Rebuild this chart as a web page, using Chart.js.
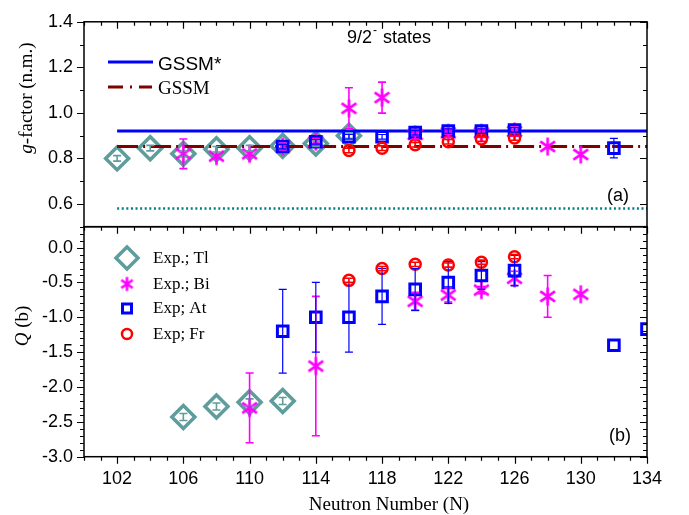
<!DOCTYPE html>
<html><head><meta charset="utf-8">
<script src="https://cdn.jsdelivr.net/npm/chart.js@4.4.1/dist/chart.umd.min.js"></script>
<style>
html,body{margin:0;padding:0;background:#fff;}
#wrap{position:relative;width:689px;height:515px;}
canvas{position:absolute;left:0;top:0;}
</style>
</head><body>
<div id="wrap"><canvas id="cg" width="689" height="515"></canvas><canvas id="cq" width="689" height="515"></canvas></div>
<script>
// ---------- data ----------
const xMin = 100, xMax = 134;
const xTicks = [102, 106, 110, 114, 118, 122, 126, 130, 134];
const gTicks = [0.6, 0.8, 1.0, 1.2, 1.4];
const qTicks = [0.0, -0.5, -1.0, -1.5, -2.0, -2.5, -3.0];
const gMin = 0.5, gMax = 1.4, qMin = -3.0, qMax = 0.3;

// theory lines (panel a)
const lineN = [102, 134];
const gssmStar = 0.92;
const gssm = 0.852;
const gDotted = 0.58;

// g-factors (panel a)
const tlNg = [102, 104, 106, 108, 110, 112, 114, 116];
const tlG = [0.80, 0.845, 0.82, 0.84, 0.845, 0.855, 0.865, 0.90];
const tlGerr = [0.012, 0.012, 0.012, 0.012, 0.012, 0.012, 0.012, 0.012];

const biNg = [106, 108, 110, 112, 114, 116, 118, 120, 122, 124, 126, 128, 130];
const biG = [0.82, 0.81, 0.82, 0.852, 0.873, 1.02, 1.067, 0.905, 0.912, 0.912, 0.918, 0.852, 0.817];
const biGerr = [0.065, 0, 0, 0.015, 0.015, 0.09, 0.068, 0.02, 0.02, 0.02, 0.02, 0, 0];

const atNg = [112, 114, 116, 118, 120, 122, 124, 126, 132];
const atG = [0.852, 0.873, 0.895, 0.895, 0.913, 0.92, 0.92, 0.925, 0.845];
const atGerr = [0.01, 0.01, 0.01, 0.01, 0.01, 0.01, 0.01, 0.01, 0.043];

const frNg = [116, 118, 120, 122, 124, 126];
const frG = [0.835, 0.845, 0.86, 0.873, 0.885, 0.89];
const frGerr = [0.01, 0.01, 0.01, 0.01, 0.01, 0.01];

// quadrupole moments (panel b)
const tlNq = [106, 108, 110, 112];
const tlQ = [-2.43, -2.28, -2.22, -2.20];
const tlQerr = [0.05, 0.05, 0.05, 0.05];

const biNq = [110, 114, 120, 122, 124, 126, 128, 130];
const biQ = [-2.30, -1.70, -0.77, -0.68, -0.61, -0.44, -0.70, -0.67];
const biQerr = [0.5, 1.0, 0.13, 0.1, 0.05, 0.1, 0.3, 0];

const atNq = [112, 114, 116, 118, 120, 122, 124, 126, 132, 134];
const atQ = [-1.20, -1.00, -1.00, -0.70, -0.60, -0.50, -0.40, -0.33, -1.40, -1.17];
const atQerr = [0.6, 0.5, 0.5, 0.4, 0.3, 0.3, 0.2, 0.22, 0, 0];

const frNq = [116, 118, 120, 122, 124, 126];
const frQ = [-0.47, -0.30, -0.24, -0.25, -0.21, -0.13];
const frQerr = [0.03, 0.03, 0.03, 0.03, 0.03, 0.03];

// ---------- styles ----------
const C_TL = '#5f9c9c', C_BI = '#ff00ff', C_AT = '#0000ff', C_FR = '#ff0000';
const C_GS = '#0000ff', C_G = '#800000', C_DOT = '#008080';
const SANS = "'Liberation Sans', Arial, sans-serif";
const SERIF = "'Liberation Serif', 'Times New Roman', serif";

function makeStar(r, color, lw) {
  const s = Math.ceil(2 * r + lw + 2);
  const c = document.createElement('canvas');
  c.width = s; c.height = s;
  const g = c.getContext('2d');
  g.strokeStyle = color; g.lineWidth = lw; g.lineCap = 'butt';
  const cx = s / 2, cy = s / 2;
  g.beginPath();
  [90, 35, -35].forEach(a => {
    const t = a * Math.PI / 180;
    const dx = Math.cos(t) * r, dy = Math.sin(t) * r;
    g.moveTo(cx - dx, cy - dy); g.lineTo(cx + dx, cy + dy);
  });
  g.stroke();
  return c;
}
const starPlot = makeStar(9, C_BI, 2.6);
const starLegend = makeStar(7, C_BI, 2.6);

const pts = (xs, ys) => xs.map((x, i) => ({x: x, y: ys[i]}));

function markerDs(label, xs, ys, errs, style, color, order, radius, bw) {
  return {
    label, data: pts(xs, ys), errs, errColor: color,
    pointStyle: style, pointRadius: radius, pointHoverRadius: radius,
    pointBorderColor: color, pointBackgroundColor: 'rgba(0,0,0,0)',
    pointBorderWidth: bw, showLine: false, order, clip: 0
  };
}
function lineDs(label, val, color, width, dash, order) {
  return {
    label, data: pts(lineN, lineN.map(() => val)), showLine: true,
    borderColor: color, borderWidth: width, borderDash: dash,
    pointRadius: 0, order, clip: 0
  };
}

// ---------- plugins ----------
const errPlugin = {
  id: 'errbars',
  afterDatasetsDraw(chart) {
    const {ctx, chartArea: a, scales: {x, y}} = chart;
    ctx.save();
    ctx.beginPath(); ctx.rect(a.left, a.top, a.right - a.left, a.bottom - a.top); ctx.clip();
    chart.data.datasets.forEach(ds => {
      if (!ds.errs) return;
      ctx.strokeStyle = ds.errColor;
      ctx.lineWidth = ds.errColor === C_AT ? 1.2 : 1.6;
      ds.data.forEach((p, j) => {
        const e = ds.errs[j];
        if (!e) return;
        const px = x.getPixelForValue(p.x);
        const y1 = y.getPixelForValue(p.y + e), y2 = y.getPixelForValue(p.y - e);
        const cw = 4;
        ctx.beginPath();
        ctx.moveTo(px, y1); ctx.lineTo(px, y2);
        ctx.moveTo(px - cw, y1); ctx.lineTo(px + cw, y1);
        ctx.moveTo(px - cw, y2); ctx.lineTo(px + cw, y2);
        ctx.stroke();
      });
    });
    ctx.restore();
  }
};

function framePlugin(cfg) {
  return {
    id: 'frame',
    afterDraw(chart) {
      const {ctx, chartArea: {left, right, top, bottom}, scales: {x, y}} = chart;
      ctx.save();
      ctx.strokeStyle = '#000';
      ctx.lineWidth = 1.5;
      ctx.strokeRect(left, top, right - left, bottom - top);
      ctx.lineWidth = 1.2;
      ctx.beginPath();
      for (let n = xMin; n <= xMax; n++) {
        const px = Math.round(x.getPixelForValue(n)) + 0.5;
        const L = ((n - xTicks[0]) % 4 === 0) ? 7 : 4;
        if (cfg.bottom) { ctx.moveTo(px, bottom); ctx.lineTo(px, bottom + L); }
        if (cfg.top) { ctx.moveTo(px, top); ctx.lineTo(px, top + L); }
      }
      for (let k = cfg.k0; k <= cfg.k1; k++) {
        const py = Math.round(y.getPixelForValue(k / 10)) + 0.5;
        const L = cfg.isMajor(k) ? 7 : 4;
        ctx.moveTo(left, py); ctx.lineTo(left - L, py);
        ctx.moveTo(right, py); ctx.lineTo(right - L, py);
      }
      ctx.stroke();
      ctx.restore();
    }
  };
}

function drawRotated(ctx, parts, cx, cy) {
  ctx.save();
  ctx.translate(cx, cy);
  ctx.rotate(-Math.PI / 2);
  ctx.textBaseline = 'alphabetic';
  ctx.textAlign = 'left';
  let total = 0;
  parts.forEach(p => { ctx.font = p.font; total += ctx.measureText(p.t).width; });
  let xx = -total / 2;
  parts.forEach(p => { ctx.font = p.font; ctx.fillStyle = '#000'; ctx.fillText(p.t, xx, 0); xx += ctx.measureText(p.t).width; });
  ctx.restore();
}

const textA = {
  id: 'textA',
  afterDraw(chart) {
    const ctx = chart.ctx;
    ctx.save();
    ctx.fillStyle = '#000';
    ctx.textBaseline = 'alphabetic';
    ctx.font = '18px ' + SANS;
    ctx.fillText('9/2', 347, 43);
    let w = ctx.measureText('9/2').width;
    ctx.font = '12px ' + SANS;
    ctx.fillText('-', 347 + w + 1, 34);
    ctx.font = '18px ' + SANS;
    ctx.fillText('states', 383, 43);
    ctx.fillText('(a)', 607, 201);
    // legend
    ctx.lineWidth = 3;
    ctx.strokeStyle = C_GS; ctx.setLineDash([]);
    ctx.beginPath(); ctx.moveTo(108, 62); ctx.lineTo(153, 62); ctx.stroke();
    ctx.strokeStyle = C_G; ctx.setLineDash([15, 7, 2, 7]);
    ctx.beginPath(); ctx.moveTo(108, 87); ctx.lineTo(152, 87); ctx.stroke();
    ctx.setLineDash([]);
    ctx.font = '19px ' + SANS;
    ctx.fillText('GSSM*', 158, 70);
    ctx.font = '19px ' + SERIF;
    ctx.fillText('GSSM', 158, 94);
    ctx.restore();
    drawRotated(ctx, [
      {t: 'g', font: 'italic 19px ' + SERIF},
      {t: '-factor (n.m.)', font: '19px ' + SERIF}
    ], 32, 98);
  }
};

const textB = {
  id: 'textB',
  afterDraw(chart) {
    const ctx = chart.ctx;
    ctx.save();
    ctx.fillStyle = '#000';
    ctx.textBaseline = 'alphabetic';
    ctx.font = '18px ' + SANS;
    ctx.fillText('(b)', 609, 441);
    const lx = 127;
    ctx.strokeStyle = C_TL; ctx.lineWidth = 3.5;
    ctx.beginPath();
    ctx.moveTo(lx - 11, 258); ctx.lineTo(lx, 247); ctx.lineTo(lx + 11, 258); ctx.lineTo(lx, 269); ctx.closePath();
    ctx.stroke();
    ctx.drawImage(starLegend, lx - starLegend.width / 2, 284 - starLegend.height / 2);
    ctx.strokeStyle = C_AT; ctx.lineWidth = 3;
    ctx.strokeRect(lx - 4.5, 308.5 - 4.5, 9, 9);
    ctx.strokeStyle = C_FR; ctx.lineWidth = 2.5;
    ctx.beginPath(); ctx.arc(lx, 334, 5, 0, Math.PI * 2); ctx.stroke();
    ctx.font = '17px ' + SERIF;
    ctx.textBaseline = 'middle';
    ctx.fillText('Exp.; Tl', 153, 259);
    ctx.fillText('Exp.; Bi', 153, 285);
    ctx.fillText('Exp; At', 153, 309);
    ctx.fillText('Exp; Fr', 153, 335);
    ctx.textBaseline = 'alphabetic';
    ctx.textAlign = 'center';
    ctx.font = '19px ' + SERIF;
    ctx.fillText('Neutron Number (N)', 389, 510);
    ctx.restore();
    drawRotated(ctx, [
      {t: 'Q', font: 'italic 19px ' + SERIF},
      {t: ' (b)', font: '19px ' + SERIF}
    ], 28, 326);
  }
};

// ---------- scales ----------
function xScale(showLabels) {
  return {
    type: 'linear', min: xMin, max: xMax,
    afterBuildTicks: s => { s.ticks = xTicks.map(v => ({value: v})); },
    grid: {display: false, drawTicks: false},
    border: {display: false},
    ticks: {display: showLabels, color: '#000', padding: 12, font: {family: SANS, size: 18}},
    afterFit: s => { s.height = showLabels ? 515 - 456.7 : 0; }
  };
}
function yScale(min, max, ticks) {
  return {
    type: 'linear', min, max,
    afterBuildTicks: s => { s.ticks = ticks.map(v => ({value: v})); },
    grid: {display: false, drawTicks: false},
    border: {display: false},
    ticks: {color: '#000', padding: 11, font: {family: SANS, size: 18}, callback: v => Number(v).toFixed(1)},
    afterFit: s => { s.width = 84; }
  };
}

const common = {
  responsive: false, animation: false, devicePixelRatio: 1,
  plugins: {legend: {display: false}, tooltip: {enabled: false}}
};

// ---------- panel (a) ----------
new Chart(document.getElementById('cg'), {
  type: 'scatter',
  data: {
    datasets: [
      markerDs('Exp.; Tl', tlNg, tlG, tlGerr, 'rectRot', C_TL, 6, 11.5, 3.5),
      lineDs('dotted', gDotted, C_DOT, 2.5, [2, 2.6], 5),
      lineDs('GSSM', gssm, C_G, 3, [21, 5, 2, 5], 4),
      lineDs('GSSM*', gssmStar, C_GS, 3, [], 4),
      markerDs('Exp.; Bi', biNg, biG, biGerr, starPlot, C_BI, 3, 9, 2.6),
      markerDs('Exp; At', atNg, atG, atGerr, 'rect', C_AT, 2, 7.5, 3),
      markerDs('Exp; Fr', frNg, frG, frGerr, 'circle', C_FR, 1, 5.5, 2.5)
    ]
  },
  options: Object.assign({}, common, {
    layout: {padding: {top: 14, left: 0, right: 42, bottom: 515 - 226.7}},
    scales: {x: xScale(false), y: yScale(gMin, gMax, gTicks)}
  }),
  plugins: [errPlugin, framePlugin({top: true, bottom: false, k0: 5, k1: 14, isMajor: k => k % 2 === 0}), textA]
});

// ---------- panel (b) ----------
new Chart(document.getElementById('cq'), {
  type: 'scatter',
  data: {
    datasets: [
      markerDs('Exp.; Tl', tlNq, tlQ, tlQerr, 'rectRot', C_TL, 6, 11.5, 3.5),
      markerDs('Exp.; Bi', biNq, biQ, biQerr, starPlot, C_BI, 3, 9, 2.6),
      markerDs('Exp; At', atNq, atQ, atQerr, 'rect', C_AT, 2, 7.5, 3),
      markerDs('Exp; Fr', frNq, frQ, frQerr, 'circle', C_FR, 1, 5.5, 2.5)
    ]
  },
  options: Object.assign({}, common, {
    layout: {padding: {top: 226.7, left: 0, right: 42, bottom: 0}},
    scales: {x: xScale(true), y: yScale(qMin, qMax, qTicks)}
  }),
  plugins: [errPlugin, framePlugin({top: true, bottom: true, k0: -30, k1: 3, isMajor: k => k % 5 === 0}), textB]
});
</script>
</body></html>
